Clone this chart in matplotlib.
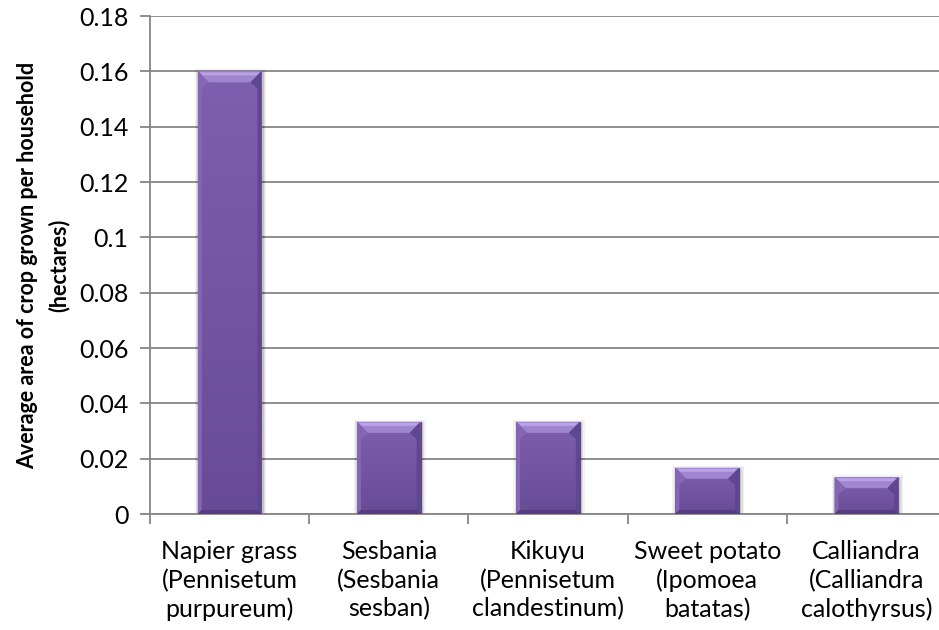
import matplotlib.pyplot as plt
from matplotlib.patches import Polygon, Rectangle
import numpy as np

plt.rcParams['font.family'] = ['Lato', 'DejaVu Sans']

crops = ['Napier grass\n(Pennisetum\npurpureum)',
         'Sesbania\n(Sesbania\nsesban)',
         'Kikuyu\n(Pennisetum\nclandestinum)',
         'Sweet potato\n(Ipomoea\nbatatas)',
         'Calliandra\n(Calliandra\ncalothyrsus)']
area = [0.16, 0.0333, 0.0333, 0.0167, 0.0133]
yticks = [0, 0.02, 0.04, 0.06, 0.08, 0.1, 0.12, 0.14, 0.16, 0.18]
ytick_labels = ['0', '0.02', '0.04', '0.06', '0.08', '0.1', '0.12', '0.14', '0.16', '0.18']

W, H = 939, 630
fig = plt.figure(figsize=(W / 100, H / 100), dpi=100)
# plot area: left edge at x=150, top 0.18 at y=16, zero line at y=514
ax = fig.add_axes([150 / W, 1 - 514 / H, (939 - 150) / W, (514 - 16) / H])

grey = '#868686'
x = np.arange(len(crops))
bars = ax.bar(x, area, width=0.4, color='#7657A6', zorder=3,
              edgecolor='#4E3874', linewidth=0.6)

ax.set_ylim(0, 0.18)
ax.set_xlim(-0.5, 4.5 - 7 / 159.5)
ax.set_autoscale_on(False)
ax.set_yticks(yticks)
ax.set_yticklabels(ytick_labels)
ax.yaxis.grid(True, color=grey, linewidth=1.3, zorder=0)
ax.set_axisbelow(True)

# category separators as x ticks
ax.set_xticks(np.arange(-0.5, 4.5, 1.0))
ax.set_xticklabels([])
ax.set_xticks(x, minor=True)
ax.set_xticklabels(crops, minor=True, fontsize=18, linespacing=1.28)
ax.tick_params(axis='x', which='minor', length=0, pad=19)
ax.tick_params(axis='x', which='major', length=7, color=grey, width=1.3)
ax.tick_params(axis='y', length=7, color=grey, width=1.3, labelsize=18, pad=8.5)

for s in ['top', 'right']:
    ax.spines[s].set_visible(False)
for s in ['left', 'bottom']:
    ax.spines[s].set_color(grey)
    ax.spines[s].set_linewidth(1.3)

ax.set_ylabel('Average area of crop grown per household\n(hectares)',
              fontsize=15.5, fontweight='bold', linespacing=1.55, labelpad=7)

# bevel effect on each bar, sized in pixels
fig.canvas.draw()
to_data = ax.transData.inverted().frozen()
grad = np.linspace(0, 1, 64).reshape(-1, 1)
top_c = np.array([0x7E, 0x5F, 0xAE]) / 255
bot_c = np.array([0x68, 0x4B, 0x96]) / 255
face = bot_c * (1 - grad) + top_c * grad  # row 0 = bottom
for r in bars:
    x0, y0 = ax.transData.transform((r.get_x(), 0))
    x1, y1 = ax.transData.transform((r.get_x() + r.get_width(), r.get_height()))

    # soft shadow
    for k, a in [(4, 0.05), (2.5, 0.08), (1.2, 0.12)]:
        sx0, sy0 = to_data.transform((x0 - k + 1, y0 - k - 1))
        sx1, sy1 = to_data.transform((x1 + k + 1, y1 + k - 2))
        ax.add_patch(Rectangle((sx0, sy0), sx1 - sx0, sy1 - sy0, facecolor='black',
                               alpha=a, edgecolor='none', zorder=2.5))

    # vertical gradient on the front face
    img = ax.imshow(face.reshape(-1, 1, 3), aspect='auto', zorder=3.5, origin='lower',
                    extent=(r.get_x(), r.get_x() + r.get_width(), 0, r.get_height()))
    img.set_clip_path(r)

    b = 11
    bv = min(b, (y1 - y0) / 3)
    faces = [
        ([(x0, y1), (x1, y1), (x1 - b, y1 - bv), (x0 + b, y1 - bv)], '#A086CF'),
        ([(x0 + 2, y1 - 1), (x1 - 2, y1 - 1), (x1 - 5, y1 - 4), (x0 + 5, y1 - 4)], '#B9A2E6'),
        ([(x0, y0), (x0, y1), (x0 + b, y1 - bv), (x0 + 4, y1 - bv - 6), (x0 + 4, y0 + 4)], '#8466B4'),
        ([(x1, y0), (x1, y1), (x1 - b, y1 - bv), (x1 - 4, y1 - bv - 6), (x1 - 4, y0 + 4)], '#5F4690'),
        ([(x0, y0), (x1, y0), (x1 - 4, y0 + 4), (x0 + 4, y0 + 4)], '#553D80'),
    ]
    for pts, c in faces:
        ax.add_patch(Polygon(to_data.transform(pts), closed=True, facecolor=c,
                             edgecolor='none', zorder=4))

ax.set_xlim(-0.5, 4.5 - 7 / 159.5)
ax.set_ylim(0, 0.18)
fig.savefig('out.png', dpi=100)
